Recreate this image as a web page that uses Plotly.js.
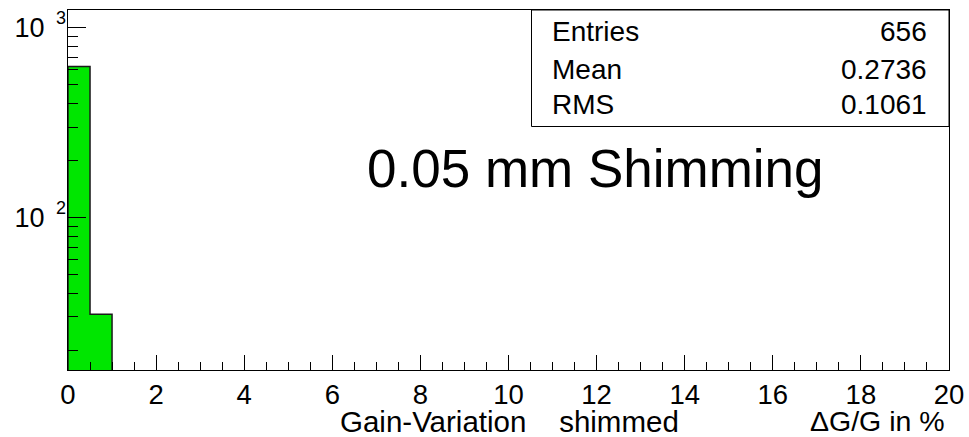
<!DOCTYPE html>
<html>
<head>
<meta charset="utf-8">
<script src="https://cdn.plot.ly/plotly-3.0.1.min.js"></script>
<style>
  html, body { margin: 0; padding: 0; background: #ffffff; }
  #plot { width: 969px; height: 437px; }
</style>
</head>
<body>
<div id="plot"></div>
<script>
// Histogram of shimmed gain variation (dG/G in %), log-scale counts
const binEdges = [0, 0.5, 1.0];
const binCounts = [625, 31];

// Statistics box contents
const statNames = ['Entries', 'Mean', 'RMS'];
const statValues = ['656', '0.2736', '0.1061'];

// Axis labelling
const xTickVals = [0, 2, 4, 6, 8, 10, 12, 14, 16, 18, 20];
const xTickText = ['0', '2', '4', '6', '8', '10', '12', '14', '16', '18', '20'];
const yTickVals = [100, 1000];
const yTickBase = ['10', '10'];
const yTickExp = ['2', '3'];

const FONT = 'Liberation Sans, Arial, Helvetica, sans-serif';
const FILL = '#00e600';

// bin centres and widths
const centers = binCounts.map((_, i) => (binEdges[i] + binEdges[i + 1]) / 2);
const widths = binCounts.map((_, i) => binEdges[i + 1] - binEdges[i]);

// outer contour of the histogram (step outline), starting/ending below the axis floor
const floorVal = 1;
const outlineX = [binEdges[0]];
const outlineY = [floorVal];
binCounts.forEach((c, i) => {
  outlineX.push(binEdges[i], binEdges[i + 1]);
  outlineY.push(c, c);
});
outlineX.push(binEdges[binEdges.length - 1]);
outlineY.push(floorVal);

// minor log ticks 20..90, 200..900
const yMinor = [];
[10, 100].forEach(d => { for (let k = 2; k <= 9; k++) yMinor.push(k * d); });

const traces = [
  {
    type: 'bar',
    x: centers,
    y: binCounts,
    width: widths,
    marker: { color: FILL, line: { width: 0 } },
    hoverinfo: 'skip'
  },
  {
    type: 'scatter',
    mode: 'lines',
    x: outlineX,
    y: outlineY,
    line: { color: '#1a1a1a', width: 1.5 },
    hoverinfo: 'skip'
  }
];

// plot area geometry in px for placing paper-referenced text
const L = 68, R = 949, T = 10, B = 370;
const px = v => (v - L) / (R - L);
const py = v => (B - v) / (B - T);

const annotations = [];

// decade exponents, raised beside the "10" tick labels
yTickVals.forEach((v, i) => {
  annotations.push({
    xref: 'paper', yref: 'y', x: px(61), y: Math.log10(v), yshift: 10,
    xanchor: 'center', yanchor: 'middle', showarrow: false,
    text: yTickExp[i], font: { family: FONT, size: 18, color: '#000' }
  });
});

statNames.forEach((name, i) => {
  const yc = [31, 69.5, 105][i];
  annotations.push({
    xref: 'paper', yref: 'paper', x: px(550), y: py(yc),
    xanchor: 'left', yanchor: 'middle', showarrow: false,
    text: name, font: { family: FONT, size: 28, color: '#000' }
  });
  annotations.push({
    xref: 'paper', yref: 'paper', x: px(929), y: py(yc),
    xanchor: 'right', yanchor: 'middle', showarrow: false,
    text: statValues[i], font: { family: FONT, size: 28, color: '#000' }
  });
});

annotations.push({
  xref: 'paper', yref: 'paper', x: px(365), y: py(168),
  xanchor: 'left', yanchor: 'middle', showarrow: false,
  text: '0.05 mm Shimming', font: { family: FONT, size: 53, color: '#000' }
});

annotations.push({
  xref: 'paper', yref: 'paper', x: px(338), y: py(421),
  xanchor: 'left', yanchor: 'middle', showarrow: false,
  text: 'Gain-Variation\u00a0\u00a0\u00a0\u00a0shimmed', font: { family: FONT, size: 29.5, color: '#000' }
});
annotations.push({
  xref: 'paper', yref: 'paper', x: px(947), y: py(421),
  xanchor: 'right', yanchor: 'middle', showarrow: false,
  text: '\u0394G/G in %', font: { family: FONT, size: 28.5, color: '#000' }
});

const layout = {
  width: 969,
  height: 437,
  margin: { l: L, r: 969 - R, t: T, b: 437 - B, pad: 0 },
  paper_bgcolor: '#ffffff',
  plot_bgcolor: '#ffffff',
  showlegend: false,
  bargap: 0,
  font: { family: FONT, size: 27, color: '#000' },
  xaxis: {
    range: [0, 20],
    tickmode: 'array',
    tickvals: xTickVals,
    ticktext: xTickText,
    ticks: 'inside',
    ticklen: 15,
    tickwidth: 1,
    tickcolor: '#000',
    minor: { ticks: 'inside', dtick: 0.5, ticklen: 8, tickwidth: 1, tickcolor: '#000', showgrid: false },
    showline: true,
    linecolor: '#000',
    linewidth: 1,
    mirror: true,
    showgrid: false,
    zeroline: false,
    tickfont: { family: FONT, size: 27.5, color: '#000' },
    fixedrange: true
  },
  yaxis: {
    type: 'log',
    range: [1.1973, 3.0934],
    tickmode: 'array',
    tickvals: yTickVals,
    ticktext: yTickBase,
    ticks: 'inside',
    ticklen: 18,
    tickwidth: 1,
    tickcolor: '#000',
    ticklabelstandoff: 17,
    minor: { ticks: 'inside', tickmode: 'array', tickvals: yMinor, ticklen: 10, tickwidth: 1, tickcolor: '#000', showgrid: false },
    showline: true,
    linecolor: '#000',
    linewidth: 1,
    mirror: true,
    showgrid: false,
    zeroline: false,
    tickfont: { family: FONT, size: 27, color: '#000' },
    fixedrange: true
  },
  shapes: [
    {
      type: 'rect', xref: 'paper', yref: 'paper',
      x0: px(531.5), x1: 1, y0: py(126.5), y1: 1,
      line: { color: '#000', width: 1 },
      fillcolor: 'rgba(255,255,255,0)',
      layer: 'above'
    }
  ],
  annotations: annotations
};

Plotly.newPlot('plot', traces, layout, { displayModeBar: false, staticPlot: true });
</script>
</body>
</html>
